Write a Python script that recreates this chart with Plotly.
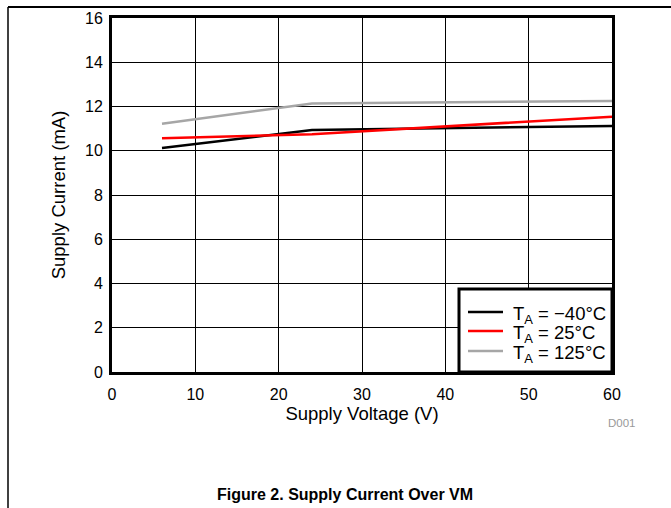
import plotly.graph_objects as go

voltage = [6, 24, 60]
current_m40 = [10.12, 10.94, 11.12]
current_25 = [10.56, 10.75, 11.54]
current_125 = [11.22, 12.14, 12.25]

series_names = ["T<sub>A</sub> = \u221240\u00b0C", "T<sub>A</sub> = 25\u00b0C", "T<sub>A</sub> = 125\u00b0C"]
series_colors = ["#000000", "#ff0000", "#a6a6a6"]
x_ticks = [0, 10, 20, 30, 40, 50, 60]
y_ticks = [0, 2, 4, 6, 8, 10, 12, 14, 16]

FONT = "Liberation Sans, Arial, sans-serif"
W, H = 671, 508
L, R, T, B = 112, 59, 18, 136
PW = W - L - R
PH = H - T - B

def px_x(px):
    return (px - L) / PW

def px_y(py):
    return (H - B - py) / PH

fig = go.Figure()
for name, ys, col in zip(series_names, [current_m40, current_25, current_125], series_colors):
    fig.add_trace(go.Scatter(x=voltage, y=ys, mode="lines", name=name, showlegend=False,
                             line=dict(color=col, width=2.5)))

axis_common = dict(showgrid=True, gridcolor="#000000", gridwidth=1, zeroline=False,
                   showline=True, linecolor="#000000", linewidth=3, mirror=True,
                   ticks="", tickfont=dict(family=FONT, size=16, color="#000"))

fig.update_layout(
    width=W, height=H,
    margin=dict(l=L, r=R, t=T, b=B, autoexpand=False),
    paper_bgcolor="white", plot_bgcolor="white",
    font=dict(family=FONT, color="#000"),
    xaxis=dict(range=[0, 60], tickvals=x_ticks, ticklabelstandoff=6,
               title=dict(text="Supply Voltage (V)", font=dict(family=FONT, size=18.5), standoff=2),
               **axis_common),
    yaxis=dict(range=[0, 16], tickvals=y_ticks, ticklabelstandoff=3,
               title=dict(text="Supply Current (mA)", font=dict(family=FONT, size=18.5), standoff=15),
               **axis_common),
    showlegend=False,
)

# legend box (drawn as shapes + text)
fig.add_shape(type="rect", xref="paper", yref="paper",
              x0=px_x(459), x1=px_x(612), y0=px_y(372), y1=px_y(289),
              fillcolor="white", line=dict(color="#000", width=3), layer="above")
legend_rows_px = [312, 331, 351]
for name, col, ry in zip(series_names, series_colors, legend_rows_px):
    fig.add_shape(type="line", xref="paper", yref="paper",
                  x0=px_x(468), x1=px_x(503), y0=px_y(ry), y1=px_y(ry),
                  line=dict(color=col, width=2.5), layer="above")
    fig.add_annotation(text=name, xref="paper", yref="paper", x=px_x(511), y=px_y(ry + 3),
                       xanchor="left", yanchor="middle", showarrow=False,
                       font=dict(family=FONT, size=18.5, color="#000"))

# page frame lines (top and left)
fig.add_shape(type="line", xref="paper", yref="paper",
              x0=px_x(8), x1=px_x(671), y0=px_y(7), y1=px_y(7),
              line=dict(color="#000", width=2), layer="above")
fig.add_shape(type="line", xref="paper", yref="paper",
              x0=px_x(8), x1=px_x(8), y0=px_y(7), y1=px_y(H + 5),
              line=dict(color="#000", width=1.5), layer="above")

fig.add_annotation(text="D001", xref="paper", yref="paper", x=px_x(622), y=px_y(423),
                   xanchor="center", yanchor="middle",
                   showarrow=False, font=dict(family=FONT, size=11.5, color="#999999"))
fig.add_annotation(text="<b>Figure 2. Supply Current Over VM</b>", xref="paper", yref="paper",
                   x=px_x(345), y=px_y(494), xanchor="center", yanchor="middle", showarrow=False,
                   font=dict(family=FONT, size=16, color="#000"))

fig.write_html("out.html", config={"displayModeBar": False},
               post_script="document.body.style.margin='0';document.body.style.overflow='hidden';")
